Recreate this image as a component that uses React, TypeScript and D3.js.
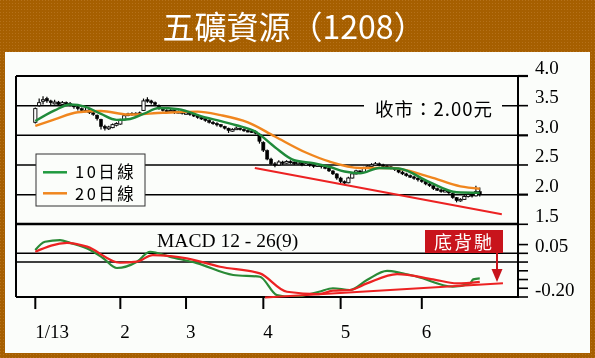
import React from "react";
import * as d3 from "d3";

// ---------- data ----------
const monthIdx = [0, 22, 39, 59, 79, 100];
const monthLabels = ["1/13", "2", "3", "4", "5", "6"];
const priceTicks = [4.0, 3.5, 3.0, 2.5, 2.0, 1.5];
const priceGrid = [4.0, 3.5, 3.0, 2.5, 2.0];
const macdTicks = [0.1, 0.05, 0, -0.05, -0.1, -0.15, -0.2];
const macdLabelVals = [0.05, -0.2];
const macdGrid = [0.05, 0];

// [open, high, low, close]
const candles: number[][] = [
  [3.22,3.47,3.20,3.45],[3.50,3.62,3.48,3.55],[3.58,3.66,3.52,3.60],[3.62,3.65,3.55,3.58],
  [3.58,3.60,3.50,3.55],[3.53,3.60,3.52,3.56],[3.56,3.58,3.50,3.52],[3.52,3.58,3.51,3.55],
  [3.55,3.57,3.50,3.53],[3.54,3.56,3.49,3.52],[3.52,3.53,3.45,3.48],[3.48,3.50,3.42,3.45],
  [3.45,3.47,3.40,3.42],[3.42,3.46,3.40,3.42],[3.43,3.44,3.36,3.38],[3.38,3.40,3.33,3.36],
  [3.34,3.35,3.25,3.28],[3.27,3.28,3.10,3.15],[3.15,3.18,3.08,3.12],[3.11,3.16,3.09,3.14],
  [3.13,3.20,3.12,3.18],[3.17,3.22,3.15,3.20],[3.19,3.28,3.18,3.26],[3.26,3.36,3.25,3.33],
  [3.34,3.38,3.32,3.36],[3.37,3.39,3.33,3.35],[3.35,3.39,3.34,3.37],[3.38,3.40,3.34,3.36],
  [3.42,3.62,3.41,3.58],[3.60,3.64,3.55,3.58],[3.58,3.60,3.52,3.55],[3.55,3.57,3.50,3.52],
  [3.50,3.52,3.43,3.45],[3.45,3.47,3.40,3.42],[3.42,3.44,3.38,3.40],[3.40,3.45,3.39,3.42],
  [3.42,3.43,3.36,3.38],[3.38,3.42,3.37,3.40],[3.40,3.41,3.35,3.37],[3.37,3.40,3.35,3.38],
  [3.38,3.39,3.33,3.35],[3.35,3.37,3.31,3.33],[3.33,3.34,3.28,3.30],[3.30,3.32,3.26,3.28],
  [3.28,3.29,3.23,3.25],[3.25,3.27,3.20,3.22],[3.22,3.24,3.18,3.20],[3.20,3.22,3.15,3.18],
  [3.18,3.19,3.13,3.15],[3.15,3.16,3.10,3.12],[3.12,3.13,3.04,3.08],[3.07,3.12,3.06,3.10],
  [3.10,3.15,3.09,3.12],[3.12,3.13,3.08,3.10],[3.10,3.12,3.06,3.08],[3.08,3.10,3.05,3.07],
  [3.07,3.09,3.04,3.06],[3.06,3.08,3.02,3.05],[3.02,3.04,2.86,2.90],[2.88,2.90,2.72,2.75],
  [2.74,2.76,2.58,2.60],[2.60,2.62,2.50,2.52],[2.52,2.55,2.46,2.50],[2.50,2.58,2.49,2.55],
  [2.55,2.57,2.50,2.53],[2.53,2.58,2.52,2.56],[2.56,2.58,2.52,2.55],[2.55,2.56,2.50,2.52],
  [2.52,2.57,2.51,2.55],[2.55,2.56,2.48,2.50],[2.50,2.54,2.49,2.52],[2.52,2.53,2.47,2.50],
  [2.50,2.51,2.45,2.48],[2.48,2.52,2.47,2.50],[2.50,2.51,2.44,2.47],[2.47,2.49,2.43,2.45],
  [2.45,2.46,2.38,2.40],[2.40,2.41,2.33,2.35],[2.35,2.36,2.25,2.28],[2.28,2.30,2.19,2.22],
  [2.22,2.24,2.16,2.20],[2.20,2.30,2.19,2.28],[2.28,2.37,2.27,2.35],[2.35,2.42,2.34,2.40],
  [2.40,2.41,2.35,2.38],[2.38,2.47,2.37,2.45],[2.45,2.50,2.44,2.48],[2.48,2.53,2.47,2.50],
  [2.50,2.55,2.49,2.52],[2.52,2.54,2.48,2.50],[2.50,2.52,2.46,2.48],[2.48,2.50,2.45,2.47],
  [2.47,2.48,2.43,2.45],[2.45,2.46,2.40,2.42],[2.42,2.43,2.36,2.38],[2.38,2.40,2.33,2.35],
  [2.35,2.37,2.30,2.32],[2.32,2.34,2.28,2.30],[2.30,2.32,2.25,2.28],[2.28,2.29,2.22,2.25],
  [2.25,2.27,2.20,2.22],[2.22,2.24,2.16,2.18],[2.18,2.20,2.13,2.15],[2.15,2.16,2.08,2.10],
  [2.10,2.12,2.06,2.08],[2.08,2.10,2.03,2.05],[2.05,2.09,2.04,2.07],[2.07,2.08,2.01,2.03],
  [2.02,2.03,1.93,1.95],[1.95,1.96,1.87,1.90],[1.90,1.94,1.88,1.92],[1.92,1.99,1.91,1.97],
  [1.97,2.03,1.95,2.00],[2.00,2.02,1.95,1.98],[1.98,2.15,1.97,2.05],[2.05,2.12,1.97,2.00],
];

// moving averages, sampled [index, value]
const ma10: number[][] = [
  [0,3.24],[5,3.42],[9,3.52],[13,3.48],[17,3.36],[21,3.26],[24,3.27],[28,3.36],[32,3.46],
  [37,3.44],[44,3.30],[48,3.24],[52,3.17],[57,3.06],[62,2.80],[67,2.58],[72,2.53],[76,2.47],
  [80,2.39],[84,2.36],[89,2.45],[94,2.44],[102,2.21],[109,2.04],[115,2.03],
];
const ma20: number[][] = [
  [0,3.16],[5,3.27],[11,3.39],[17,3.41],[24,3.35],[33,3.38],[42,3.40],[48,3.34],[55,3.22],
  [62,2.98],[70,2.71],[76,2.56],[84,2.45],[92,2.45],[102,2.30],[110,2.14],[115,2.10],
];
const priceTrend: number[][] = [[56.8, 2.45], [120.7, 1.67]];

const dif: number[][] = [
  [0,0.069],[2.5,0.116],[6.4,0.126],[9,0.110],[14.2,0.069],[17.5,0.023],[21.1,-0.034],
  [26.3,0.002],[29.7,0.059],[34.9,0.030],[41.8,-0.006],[51.2,-0.074],[58.1,-0.084],
  [62.5,-0.189],[66.6,-0.2],[73.4,-0.170],[77,-0.150],[81.4,-0.160],[85.8,-0.103],
  [91,-0.051],[94.4,-0.061],[98.8,-0.084],[108,-0.141],[112.5,-0.122],[113.3,-0.099],[115,-0.093],
];
const dea: number[][] = [
  [0,0.059],[8.2,0.110],[13.4,0.088],[21.9,-0.004],[26.3,0.002],[30.4,0.040],[39.2,0.021],
  [47.8,-0.027],[58.1,-0.065],[65.1,-0.170],[73.4,-0.183],[77,-0.164],[81.4,-0.160],
  [85.8,-0.122],[93.6,-0.069],[102.9,-0.099],[109.1,-0.122],[115,-0.113],
];
const macdTrend: number[][] = [[59.4, -0.203], [121, -0.122]];

// ---------- layout ----------
const W = 595, H = 358;
const L = 16, R = 518;
const PT = 76, PB = 224, MB = 297;

const x = d3.scaleLinear().domain([0, 100]).range([35.3, 421.8]);
const yP = d3.scaleLinear().domain([1.5, 4.0]).range([224.3, 76]);
const yM = d3.scaleLinear().domain([-0.2, 0.2]).range([297, 227.1]);

const lineP = d3.line<number[]>().x(d => x(d[0])).y(d => yP(d[1])).curve(d3.curveMonotoneX);
const lineM = d3.line<number[]>().x(d => x(d[0])).y(d => yM(d[1])).curve(d3.curveMonotoneX);
const straightP = d3.line<number[]>().x(d => x(d[0])).y(d => yP(d[1]));
const straightM = d3.line<number[]>().x(d => x(d[0])).y(d => yM(d[1]));

const SERIF = "'Liberation Serif', 'Times New Roman', serif";
const SANS = "'Noto Sans CJK TC', 'Noto Sans', sans-serif";

export default function App() {
  const cw = 3.2;
  return (
    <svg width={W} height={H} viewBox={`0 0 ${W} ${H}`}
      style={{ position: "fixed", left: 0, top: 0, display: "block" }}>
      <defs>
        <pattern id="dots" width="3" height="3" patternUnits="userSpaceOnUse">
          <rect width="3" height="3" fill="#a65f00" />
          <rect x="0" y="0" width="1" height="1" fill="#b5711a" />
        </pattern>
        <clipPath id="clipP"><rect x={L} y={PT} width={R - L} height={PB - PT} /></clipPath>
        <clipPath id="clipM"><rect x={L} y={PB} width={R - L} height={MB - PB} /></clipPath>
      </defs>
      <rect width={W} height={H} fill="url(#dots)" />
      <rect x={5} y={52} width={585} height={301} fill="#fbfdfa" />
      <text x={294} y={39} textAnchor="middle" fill="#fff" fontFamily={SANS} fontSize={32}>
        五礦資源（1208）
      </text>

      {/* price grid */}
      {priceGrid.map(v => (
        <line key={"g" + v} x1={L} x2={R} y1={yP(v)} y2={yP(v)} stroke="#000"
          strokeWidth={v === 4.0 ? 2.2 : 1.5} />
      ))}
      {/* macd grid */}
      {macdGrid.map(v => (
        <line key={"m" + v} x1={L} x2={R} y1={yM(v)} y2={yM(v)} stroke="#000" strokeWidth={1.6} />
      ))}
      {/* separator & frame */}
      <line x1={L} x2={R} y1={PB} y2={PB} stroke="#000" strokeWidth={2.6} />
      <line x1={L} x2={R + 1} y1={MB} y2={MB} stroke="#000" strokeWidth={2.2} />
      <line x1={L} x2={L} y1={PT} y2={MB} stroke="#000" strokeWidth={2} />
      <line x1={R} x2={R} y1={PT} y2={MB} stroke="#000" strokeWidth={2} />

      {/* close label breaking the 3.5 line */}
      <rect x={364} y={96} width={138} height={20} fill="#fbfdfa" />
      <text x={375} y={116} fontFamily={SANS} fontSize={18.5} letterSpacing={1} fill="#000">收市：2.00元</text>

      {/* candles */}
      <g clipPath="url(#clipP)">
        {candles.map((c, i) => {
          const [o, h, l, cl] = c;
          const up = cl > o;
          const top = yP(Math.max(o, cl));
          const bot = yP(Math.min(o, cl));
          return (
            <g key={i}>
              <line x1={x(i)} x2={x(i)} y1={yP(h)} y2={yP(l)} stroke="#000" strokeWidth={1.2} />
              <rect x={x(i) - cw / 2} y={top} width={cw} height={Math.max(1.5, bot - top)}
                fill={up ? "#fff" : "#000"} stroke="#000" strokeWidth={up ? 0.9 : 0.5} />
            </g>
          );
        })}
        <path d={lineP(ma20) || ""} fill="none" stroke="#f0861e" strokeWidth={2.4} />
        <path d={lineP(ma10) || ""} fill="none" stroke="#1f8a3a" strokeWidth={2.4} />
        <path d={straightP(priceTrend) || ""} fill="none" stroke="#ec2222" strokeWidth={2} />
      </g>

      {/* legend */}
      <rect x={36} y={154} width={109} height={52} fill="#fbfdfa" stroke="#333" strokeWidth={1} />
      <line x1={43} x2={67} y1={172.3} y2={172.3} stroke="#1f9a3e" strokeWidth={2.5} />
      <line x1={43} x2={67} y1={193.3} y2={193.3} stroke="#f0861e" strokeWidth={2.5} />
      <text x={75} y={178} fontFamily={SANS} fontSize={16.5} letterSpacing={2.5} fill="#000">10日線</text>
      <text x={75} y={199.5} fontFamily={SANS} fontSize={16.5} letterSpacing={2.5} fill="#000">20日線</text>

      {/* MACD */}
      <text x={157} y={246.5} fontFamily={SERIF} fontSize={19.5} fill="#000">MACD 12 - 26(9)</text>
      <g clipPath="url(#clipM)">
        <path d={lineM(dif) || ""} fill="none" stroke="#2a8a36" strokeWidth={2.2} />
        <path d={lineM(dea) || ""} fill="none" stroke="#ec2222" strokeWidth={2.2} />
      </g>
      <path d={straightM(macdTrend) || ""} fill="none" stroke="#ec2222" strokeWidth={2} />

      {/* 底背馳 label */}
      <rect x={425} y={230} width={78} height={23} fill="#c8141c" />
      <text x={464} y={248.5} textAnchor="middle" fill="#fff" fontFamily={SANS} fontSize={18}
        letterSpacing={2}>底背馳</text>
      <line x1={497} x2={497} y1={253} y2={272} stroke="#c8141c" strokeWidth={2} />
      <path d="M491.5,269 L502.5,269 L497,282 Z" fill="#c8141c" />

      {/* right axis */}
      {priceTicks.map(v => (
        <g key={"pt" + v}>
          <line x1={R} x2={R + 10} y1={yP(v)} y2={yP(v)} stroke="#000"
            strokeWidth={v % 1 === 0 ? 2.2 : 1.6} />
          <text x={535} y={yP(v) - 2.5} fontFamily={SERIF} fontSize={19} fill="#000">
            {v.toFixed(1)}
          </text>
        </g>
      ))}
      {macdTicks.map(v => (
        <line key={"mt" + v} x1={R} x2={R + 10} y1={yM(v)} y2={yM(v)} stroke="#000" strokeWidth={1.6} />
      ))}
      {macdLabelVals.map(v => (
        <text key={"ml" + v} x={535} y={yM(v) - 1.5} fontFamily={SERIF} fontSize={19} fill="#000">
          {v.toFixed(2)}
        </text>
      ))}

      {/* x axis */}
      {monthIdx.map((m, i) => (
        <g key={"x" + m}>
          <line x1={x(m)} x2={x(m)} y1={MB} y2={MB + 12} stroke="#000" strokeWidth={2} />
          <text x={x(m)} y={338} fontFamily={SERIF} fontSize={19} fill="#000">{monthLabels[i]}</text>
        </g>
      ))}
    </svg>
  );
}
